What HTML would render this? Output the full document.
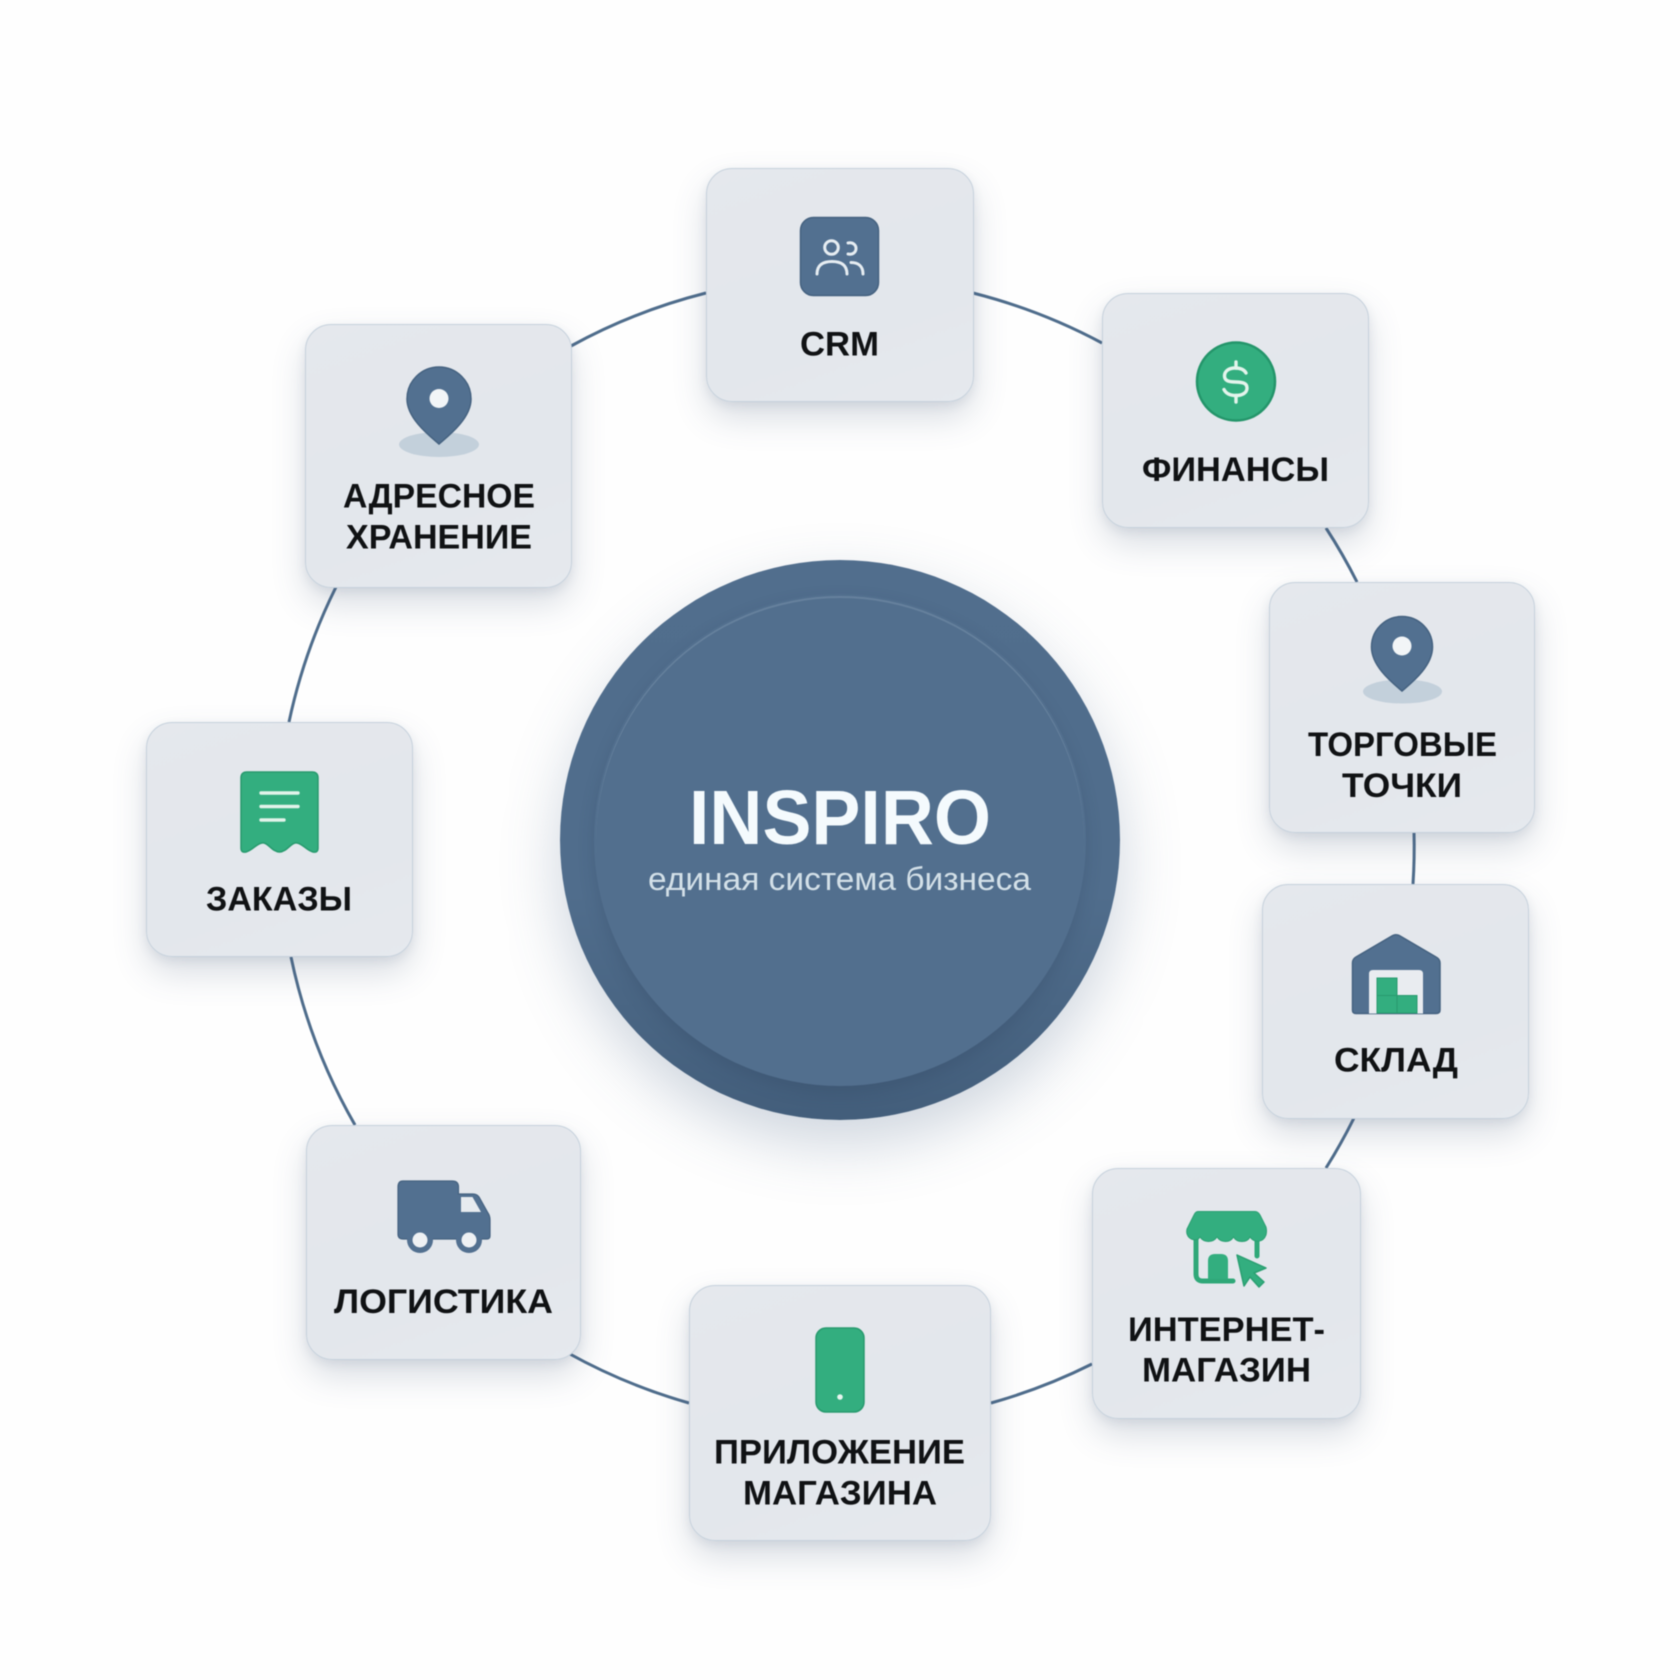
<!DOCTYPE html>
<html lang="ru">
<head>
<meta charset="utf-8">
<title>INSPIRO</title>
<style>
html,body{margin:0;padding:0;background:#fefefe;}
#stage{position:relative;width:1680px;height:1680px;overflow:hidden;background:#fefefe;filter:blur(.5px);}
svg{position:absolute;left:0;top:0;}
.card{position:absolute;box-sizing:border-box;border:1.5px solid #c6d1dc;border-radius:26px;
background:linear-gradient(160deg,#e5e8ed 0%,#e3e7ec 60%,#e6e9ee 100%);
box-shadow:0 16px 34px rgba(70,90,120,.2),0 4px 10px rgba(70,90,120,.1);}
#outer{position:absolute;left:560px;top:560px;width:560px;height:560px;border-radius:50%;
background:linear-gradient(180deg,#516e8d 0%,#506d8c 60%,#435e7b 100%);
box-shadow:0 24px 60px rgba(70,95,130,.26);}
#inner{position:absolute;left:594px;top:594px;width:492px;height:492px;box-sizing:border-box;border-radius:50%;
background:#526f8e;border:2px solid transparent;
box-shadow:inset 0 2px 0 rgba(150,172,192,.3),0 7px 16px rgba(40,60,85,.22);}
text{font-family:"Liberation Sans",sans-serif;}
.l{font-weight:700;font-size:34px;fill:#101214;text-anchor:start;}
</style>
</head>
<body>
<div id="stage">
<svg width="1680" height="1680" viewBox="0 0 1680 1680">
<g fill="none" stroke="#4f6d8c" stroke-width="3">
<path d="M973 293A570 570 0 0 1 1102 343"/>
<path d="M1326 528A570 570 0 0 1 1357 582"/>
<path d="M1414 832A570 570 0 0 1 1413 884"/>
<path d="M1354 1118A570 570 0 0 1 1326 1168"/>
<path d="M1092 1364A570 570 0 0 1 991 1403"/>
<path d="M689 1403A570 570 0 0 1 568 1353"/>
<path d="M355 1125A570 570 0 0 1 291 957"/>
<path d="M289 722A570 570 0 0 1 336 587"/>
<path d="M571 346A570 570 0 0 1 706 293"/>
</g>
</svg>

<div id="outer"></div>
<div id="inner"></div>

<div class="card" style="left:706px;top:168px;width:268px;height:234px"></div>
<div class="card" style="left:1102px;top:293px;width:267px;height:235px"></div>
<div class="card" style="left:1269px;top:582px;width:266px;height:251px"></div>
<div class="card" style="left:1262px;top:884px;width:267px;height:235px"></div>
<div class="card" style="left:1092px;top:1168px;width:269px;height:251px"></div>
<div class="card" style="left:689px;top:1285px;width:302px;height:256px"></div>
<div class="card" style="left:306px;top:1125px;width:275px;height:235px"></div>
<div class="card" style="left:146px;top:722px;width:267px;height:235px"></div>
<div class="card" style="left:305px;top:324px;width:267px;height:264px"></div>

<svg width="1680" height="1680" viewBox="0 0 1680 1680">
<!-- centre text -->
<text x="689" y="844" font-size="77" font-weight="700" fill="#f4fafd" textLength="302" lengthAdjust="spacingAndGlyphs">INSPIRO</text>
<text x="648" y="890" font-size="32" fill="#d3e0e8" textLength="383" lengthAdjust="spacingAndGlyphs">единая система бизнеса</text>

<!-- CRM icon -->
<rect x="800.500" y="217.500" width="78" height="78" rx="13" fill="#527090" stroke="#456280" stroke-width="1.500"/>
<g fill="none" stroke="#e6edf2" stroke-width="3" stroke-linecap="round">
<circle cx="831.500" cy="247.500" r="6.800"/>
<path d="M817 274C817 265 823 261.500 832 261.500C841 261.500 847 265 847 274"/>
<path d="M848 243C853 242 856 245 856 248.500C856 252 853 255 848 254"/>
<path d="M851 262.500C858 262.500 863 266 863 274"/>
</g>
<text class="l" x="800" y="355.500" textLength="79" lengthAdjust="spacingAndGlyphs">CRM</text>

<!-- Finance -->
<circle cx="1236" cy="381.500" r="39" fill="#33ae7f" stroke="#24956a" stroke-width="2.500"/>
<g fill="none" stroke="#e4f4ec" stroke-width="3.400" stroke-linecap="round">
<path d="M1246 373C1244 369 1240 368 1235 368C1229 368 1224.500 371 1224.500 376C1224.500 387 1247 377 1247 388C1247 393 1242 395.500 1236 395.500C1230 395.500 1226 393.500 1224 389.500"/>
<path d="M1236 362V368M1236 395.500V402"/>
</g>
<text class="l" x="1142" y="481" textLength="187" lengthAdjust="spacingAndGlyphs">ФИНАНСЫ</text>

<!-- Trade points -->
<ellipse cx="1402.500" cy="691.500" rx="39.500" ry="12" fill="#c3d0db"/>
<path d="M1402 691C1394 684 1371.500 667 1371.500 647A30.500 30.500 0 1 1 1432.500 647C1432.500 667 1410 684 1402 691Z" fill="#527090" stroke="#456280" stroke-width="1.500"/>
<circle cx="1402" cy="646" r="9.500" fill="#f2f5f7"/>
<text class="l" x="1308" y="756" textLength="189" lengthAdjust="spacingAndGlyphs">ТОРГОВЫЕ</text>
<text class="l" x="1342" y="797" textLength="120" lengthAdjust="spacingAndGlyphs">ТОЧКИ</text>

<!-- Warehouse -->
<path d="M1391 936.500Q1396 933 1401 936.500L1436 957Q1440 959 1440 963V1010Q1440 1013.500 1436 1013.500H1356Q1352.500 1013.500 1352.500 1010V963Q1352.500 959 1356 957Z" fill="#527090" stroke="#456280" stroke-width="1.500"/>
<path d="M1369 1013.500V974Q1369 970 1373 970H1419Q1423 970 1423 974V1013.500Z" fill="#e9ecf0"/>
<rect x="1377" y="978" width="20" height="17.500" fill="#33ae7f" stroke="#289a6e"/>
<rect x="1377" y="995.500" width="20" height="17.500" fill="#33ae7f" stroke="#289a6e"/>
<rect x="1397" y="995.500" width="20" height="17.500" fill="#33ae7f" stroke="#289a6e"/>
<text class="l" x="1334" y="1071.500" textLength="124" lengthAdjust="spacingAndGlyphs">СКЛАД</text>

<!-- Online store -->
<path d="M1196 1238V1274Q1196 1281 1203 1281H1233M1257 1240V1256" fill="none" stroke="#2fa878" stroke-width="5" stroke-linecap="round"/>
<path d="M1208 1279V1261Q1208 1254 1215 1254H1221Q1228 1254 1228 1261V1279Z" fill="#33ae7f"/>
<path d="M1198 1211.500H1255Q1258 1211.500 1260 1215L1266 1227Q1267 1231 1266 1235C1263 1243 1254 1243 1250 1237C1247 1243 1237 1243 1233.500 1237C1230 1243 1221 1243 1217 1237C1213 1243 1204 1243 1200 1237C1197 1242 1189 1240 1187 1234Q1186 1230 1188 1227L1194 1215Q1195.500 1211.500 1198 1211.500Z" fill="#33ae7f" stroke="#2a9f71" stroke-width="1"/>
<path d="M1237 1255L1266 1268L1254 1273L1264 1282L1259 1287L1250 1277L1244 1286Z" fill="#33ae7f" stroke="#2a9f71" stroke-width="1.500" stroke-linejoin="round"/>
<text class="l" x="1128" y="1341" textLength="197" lengthAdjust="spacingAndGlyphs">ИНТЕРНЕТ-</text>
<text class="l" x="1142" y="1381.500" textLength="169" lengthAdjust="spacingAndGlyphs">МАГАЗИН</text>

<!-- App -->
<rect x="816" y="1328" width="48" height="84" rx="10" fill="#33ae7f" stroke="#289a6e" stroke-width="1.500"/>
<circle cx="840" cy="1397" r="2.800" fill="#e8f5ef"/>
<text class="l" x="714" y="1463.500" textLength="251" lengthAdjust="spacingAndGlyphs">ПРИЛОЖЕНИЕ</text>
<text class="l" x="743" y="1504.500" textLength="194" lengthAdjust="spacingAndGlyphs">МАГАЗИНА</text>

<!-- Truck -->
<path d="M403 1181H452Q458.500 1181 458.500 1187V1194H473Q477 1194 479 1197L488 1213Q490 1216 490 1220V1236Q490 1239 487 1239H403Q398 1239 398 1234V1187Q398 1181 403 1181Z" fill="#527090" stroke="#456280" stroke-width="1.200"/>
<path d="M461 1197H472.500L481 1212H461Z" fill="#e7ebef"/>
<circle cx="420" cy="1240" r="13" fill="#527090"/>
<circle cx="420" cy="1240" r="7.500" fill="#eef1f4"/>
<circle cx="469" cy="1240" r="13" fill="#527090"/>
<circle cx="469" cy="1240" r="7.500" fill="#eef1f4"/>
<text class="l" x="334" y="1313" textLength="219" lengthAdjust="spacingAndGlyphs">ЛОГИСТИКА</text>

<!-- Orders -->
<path d="M247 772H312Q318 772 318 778V848Q318 853 313 852C306 850 303 844 297 843C291 842 287 852 279.500 852C272 852 268 842 262 843C256 844 253 850 246 852Q241 853 241 848V778Q241 772 247 772Z" fill="#33ae7f" stroke="#289a6e" stroke-width="1.500"/>
<g stroke="#e2f3ea" stroke-width="3.400" stroke-linecap="round">
<path d="M261 793H298M261 806.500H298M261 820H284"/>
</g>
<text class="l" x="206" y="910.500" textLength="146" lengthAdjust="spacingAndGlyphs">ЗАКАЗЫ</text>

<!-- Address -->
<ellipse cx="439" cy="444.500" rx="40" ry="12.500" fill="#c3d0db"/>
<path d="M439 444C431 437 407 419 407 399A32 32 0 1 1 471 399C471 419 447 437 439 444Z" fill="#527090" stroke="#456280" stroke-width="1.500"/>
<circle cx="439" cy="398.500" r="9.500" fill="#f2f5f7"/>
<text class="l" x="343" y="507.500" textLength="192" lengthAdjust="spacingAndGlyphs">АДРЕСНОЕ</text>
<text class="l" x="346" y="548.500" textLength="186" lengthAdjust="spacingAndGlyphs">ХРАНЕНИЕ</text>
</svg>
</div>
</body>
</html>
